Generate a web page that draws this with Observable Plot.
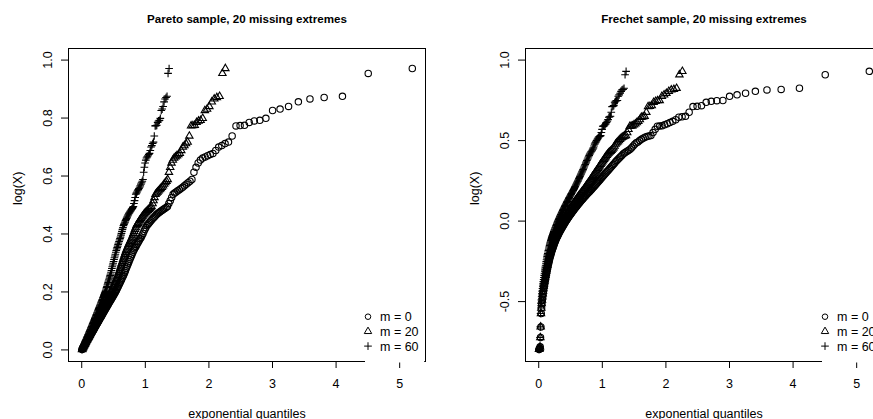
<!DOCTYPE html>
<html><head><meta charset="utf-8">
<script src="https://cdn.jsdelivr.net/npm/d3@7"></script>
<script src="https://cdn.jsdelivr.net/npm/@observablehq/plot@0.6"></script>
<style>
html,body{margin:0;padding:0;background:#fff;overflow:hidden;width:873px;height:419px}
#wrap{position:relative;width:914px;height:419px;display:flex}
#wrap > div{width:457px;height:419px;flex:none}
</style></head><body><div id="wrap"><div id="p1"></div><div id="p2"></div></div>
<script>
const missing = [0, 20, 60];
const legendLabels = ["m = 0", "m = 20", "m = 60"];
const titles = ["Pareto sample, 20 missing extremes", "Frechet sample, 20 missing extremes"];
const xLabel = "exponential quantiles";
const yLabel = "log(X)";
const xTicks = [0, 1, 2, 3, 4, 5];
const paretoYTicks = [0, 0.2, 0.4, 0.6, 0.8, 1.0];
const frechetYTicks = [-0.5, 0, 0.5, 1.0];

const paretoLogX = [
0.001,0.003,0.006,0.008,0.011,0.013,0.015,0.018,0.019,0.021,
0.024,0.026,0.029,0.031,0.033,0.035,0.037,0.040,0.042,0.044,
0.046,0.049,0.051,0.053,0.056,0.058,0.061,0.063,0.066,0.068,
0.070,0.073,0.076,0.078,0.081,0.083,0.086,0.089,0.091,0.094,
0.097,0.099,0.102,0.105,0.108,0.111,0.113,0.116,0.119,0.122,
0.125,0.128,0.131,0.134,0.137,0.140,0.143,0.146,0.149,0.152,
0.155,0.158,0.162,0.165,0.168,0.171,0.174,0.178,0.181,0.184,
0.188,0.191,0.195,0.198,0.202,0.206,0.210,0.215,0.219,0.224,
0.228,0.233,0.238,0.242,0.247,0.252,0.257,0.262,0.268,0.274,
0.281,0.287,0.293,0.299,0.305,0.312,0.318,0.324,0.330,0.337,
0.343,0.348,0.353,0.358,0.364,0.369,0.374,0.379,0.384,0.389,
0.396,0.402,0.409,0.416,0.422,0.429,0.433,0.437,0.441,0.446,
0.450,0.454,0.458,0.462,0.466,0.470,0.473,0.476,0.479,0.482,
0.485,0.488,0.491,0.495,0.505,0.515,0.526,0.537,0.541,0.545,
0.549,0.553,0.557,0.561,0.566,0.572,0.577,0.582,0.588,0.613,
0.630,0.645,0.655,0.662,0.666,0.670,0.674,0.678,0.688,0.700,
0.705,0.712,0.717,0.738,0.773,0.774,0.775,0.785,0.790,0.792,
0.799,0.826,0.831,0.840,0.856,0.866,0.871,0.875,0.954,0.971];

const frechetLogX = [
-0.797,-0.795,-0.790,-0.781,-0.723,-0.657,-0.574,-0.540,-0.512,-0.490,
-0.470,-0.452,-0.435,-0.419,-0.404,-0.390,-0.376,-0.363,-0.350,-0.337,
-0.324,-0.311,-0.298,-0.286,-0.274,-0.262,-0.251,-0.240,-0.229,-0.219,
-0.210,-0.201,-0.192,-0.183,-0.175,-0.167,-0.159,-0.151,-0.143,-0.135,
-0.128,-0.121,-0.114,-0.107,-0.101,-0.095,-0.089,-0.083,-0.077,-0.071,
-0.065,-0.060,-0.054,-0.049,-0.043,-0.038,-0.032,-0.027,-0.021,-0.016,
-0.010,-0.005,0.000,0.005,0.010,0.016,0.021,0.026,0.031,0.036,
0.041,0.046,0.051,0.056,0.061,0.066,0.071,0.076,0.081,0.086,
0.091,0.096,0.101,0.106,0.111,0.116,0.121,0.126,0.131,0.136,
0.141,0.146,0.151,0.156,0.161,0.166,0.171,0.176,0.181,0.186,
0.191,0.196,0.202,0.208,0.214,0.220,0.226,0.232,0.238,0.244,
0.250,0.257,0.264,0.271,0.278,0.285,0.292,0.299,0.306,0.313,
0.320,0.328,0.336,0.344,0.352,0.360,0.368,0.376,0.384,0.392,
0.400,0.408,0.416,0.423,0.429,0.434,0.440,0.447,0.455,0.466,
0.478,0.486,0.492,0.500,0.508,0.515,0.521,0.525,0.528,0.531,
0.550,0.570,0.589,0.590,0.592,0.598,0.604,0.612,0.620,0.630,
0.645,0.648,0.651,0.676,0.711,0.713,0.717,0.738,0.744,0.748,
0.749,0.775,0.784,0.794,0.806,0.815,0.818,0.825,0.909,0.930];

const FONT = "'Liberation Sans', Arial, Helvetica, sans-serif";
const INK = "#000";
const symbolSpecs = [
  {symbol: "circle", r: 3.2},
  {symbol: "triangle", r: 2.75},
  {symbol: "plus", r: 2.6}
];

// exponential QQ plot: i-th order statistic of the n observed values
// against the exponential quantile of i/(n+m+1)
function qqRows(logx) {
  const n = logx.length;
  return missing.map((m, k) =>
    logx.map((y, j) => ({x: -Math.log(1 - (j + 1) / (n + m + 1)), y, series: legendLabels[k]})));
}

function legendMark(index, scales, values, dims) {
  const g = d3.create("svg:g");
  const right = dims.width - dims.marginRight;
  const bottom = dims.height - dims.marginBottom;
  const w = 60, h = 54;
  g.append("rect").attr("x", right - w).attr("y", bottom - h)
    .attr("width", w - 0.8).attr("height", h + 1.5).attr("fill", "#fff");
  legendLabels.forEach((lab, k) => {
    const cy = bottom - 44.3 + k * 14.7;
    const spec = symbolSpecs[k];
    const sym = {circle: d3.symbolCircle, triangle: d3.symbolTriangle, plus: d3.symbolPlus}[spec.symbol];
    g.append("path").attr("d", d3.symbol(sym, Math.PI * spec.r * spec.r * (k === 0 ? 0.75 : 1))())
      .attr("transform", `translate(${right - 57},${cy})`)
      .attr("fill", "none").attr("stroke", INK).attr("stroke-width", 1);
    g.append("text").attr("x", right - 45).attr("y", cy).attr("dy", "0.36em")
      .attr("text-anchor", "start").attr("font-size", 12.5).attr("fill", INK).text(lab);
  });
  return g.node();
}

function panel(logx, yDomain, yTicks, title) {
  const series = qqRows(logx);
  return Plot.plot({
    width: 457, height: 419,
    marginLeft: 68, marginRight: 32, marginTop: 48, marginBottom: 58,
    style: {fontFamily: FONT, fontSize: "12px", background: "#fff", color: INK, overflow: "visible"},
    x: {domain: [-0.208, 5.406]},
    y: {domain: yDomain},
    marks: [
      ...series.map((rows, k) => Plot.dot(rows, {x: "x", y: "y", symbol: symbolSpecs[k].symbol, r: symbolSpecs[k].r, stroke: INK, fill: "none", strokeWidth: 1.1})),
      Plot.frame({stroke: INK, strokeWidth: 1}),
      Plot.axisX({ticks: xTicks, tickSize: 7, tickPadding: 11, fontSize: 12.5, label: null, tickFormat: d => String(d), stroke: INK}),
      Plot.axisY({ticks: yTicks, tickSize: 7, tickFormat: () => "", label: null, stroke: INK}),
      Plot.text(yTicks, {y: d => d, frameAnchor: "left", dx: -21, rotate: -90, text: d => d.toFixed(1), fontSize: 12.5, textAnchor: "middle", fill: INK}),
      Plot.text([yLabel], {frameAnchor: "left", dx: -50.5, rotate: -90, text: d => d, fontSize: 12.5, fill: INK}),
      Plot.text([xLabel], {frameAnchor: "bottom", dy: 56, text: d => d, fontSize: 12.5, fill: INK}),
      Plot.text([title], {frameAnchor: "top", dy: -34, text: d => d, fontSize: 11.6, fontWeight: "bold", fill: INK}),
      legendMark
    ]
  });
}

document.getElementById("p1").append(panel(paretoLogX, [-0.04, 1.04], paretoYTicks, titles[0]));
document.getElementById("p2").append(panel(frechetLogX, [-0.872, 1.072], frechetYTicks, titles[1]));
</script></body></html>
